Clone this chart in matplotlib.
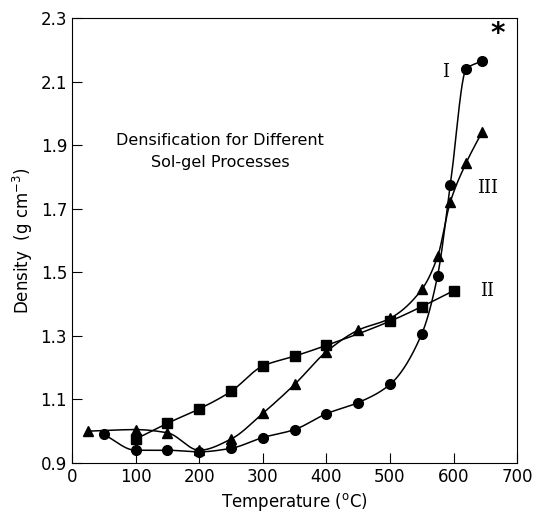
import numpy as np
import matplotlib
matplotlib.use("Agg")
import matplotlib.pyplot as plt

# Data
temp_I = [50, 100, 150, 200, 250, 300, 350, 400, 450, 500, 550, 575, 595, 620, 645]
dens_I = [0.99, 0.94, 0.94, 0.935, 0.946, 0.98, 1.005, 1.055, 1.09, 1.147, 1.306, 1.49, 1.775, 2.14, 2.165]

temp_II = [100, 150, 200, 250, 300, 350, 400, 500, 550, 600]
dens_II = [0.975, 1.025, 1.07, 1.125, 1.205, 1.236, 1.27, 1.346, 1.392, 1.442]

temp_III = [25, 100, 150, 200, 250, 300, 350, 400, 450, 500, 550, 575, 595, 620, 645]
dens_III = [1.0, 1.005, 0.995, 0.94, 0.975, 1.056, 1.147, 1.25, 1.318, 1.355, 1.446, 1.55, 1.722, 1.845, 1.942]


def smooth(x, y, n=40):
    # monotone cubic (Fritsch-Carlson) curve through the points, for drawing only
    x = np.asarray(x, float)
    y = np.asarray(y, float)
    h = np.diff(x)
    d = np.diff(y) / h
    m = np.zeros_like(y)
    m[0], m[-1] = d[0], d[-1]
    for i in range(1, len(x) - 1):
        if d[i - 1] * d[i] > 0:
            w1 = 2 * h[i] + h[i - 1]
            w2 = h[i] + 2 * h[i - 1]
            m[i] = (w1 + w2) / (w1 / d[i - 1] + w2 / d[i])
    xs, ys = [], []
    t = np.linspace(0, 1, n)
    for i in range(len(x) - 1):
        h00 = 2 * t ** 3 - 3 * t ** 2 + 1
        h10 = t ** 3 - 2 * t ** 2 + t
        h01 = -2 * t ** 3 + 3 * t ** 2
        h11 = t ** 3 - t ** 2
        xs.append(x[i] + t * h[i])
        ys.append(h00 * y[i] + h10 * h[i] * m[i] + h01 * y[i + 1] + h11 * h[i] * m[i + 1])
    return np.concatenate(xs), np.concatenate(ys)


fig = plt.figure(figsize=(5.37, 5.19), dpi=100)
ax = fig.add_axes([0.134, 0.108, 0.829, 0.857])

for x, y, m in ((temp_I, dens_I, 'o'), (temp_II, dens_II, 's'), (temp_III, dens_III, '^')):
    sx, sy = smooth(x, y)
    ax.plot(sx, sy, color='black', linewidth=1.1)
    ax.plot(x, y, linestyle='none', marker=m, color='black', markersize=7)

ax.set_xlim(0, 700)
ax.set_ylim(0.9, 2.3)
ax.set_xticks(np.arange(0, 701, 100))
ax.set_yticks([0.9, 1.1, 1.3, 1.5, 1.7, 1.9, 2.1, 2.3])
ax.set_yticklabels(['0.9', '1.1', '1.3', '1.5', '1.7', '1.9', '2.1', '2.3'])
ax.tick_params(direction='in', length=7, labelsize=12, top=False, right=False)
ax.set_xlabel('Temperature ($^{\\rm o}$C)', fontsize=12)
ax.set_ylabel('Density  (g cm$^{-3}$)', fontsize=12)

ax.text(233, 1.915, 'Densification for Different', ha='center', va='center', fontsize=11.5)
ax.text(233, 1.845, 'Sol-gel Processes', ha='center', va='center', fontsize=11.5)

ax.text(587, 2.13, 'I', family='DejaVu Serif', fontsize=13, ha='center', va='center')
ax.text(653, 1.764, 'III', family='DejaVu Serif', fontsize=13, ha='center', va='center')
ax.text(653, 1.44, 'II', family='DejaVu Serif', fontsize=13, ha='center', va='center')
ax.text(670, 2.25, '*', fontsize=20, fontweight='bold', ha='center', va='center')

fig.savefig('out.png', dpi=100)
